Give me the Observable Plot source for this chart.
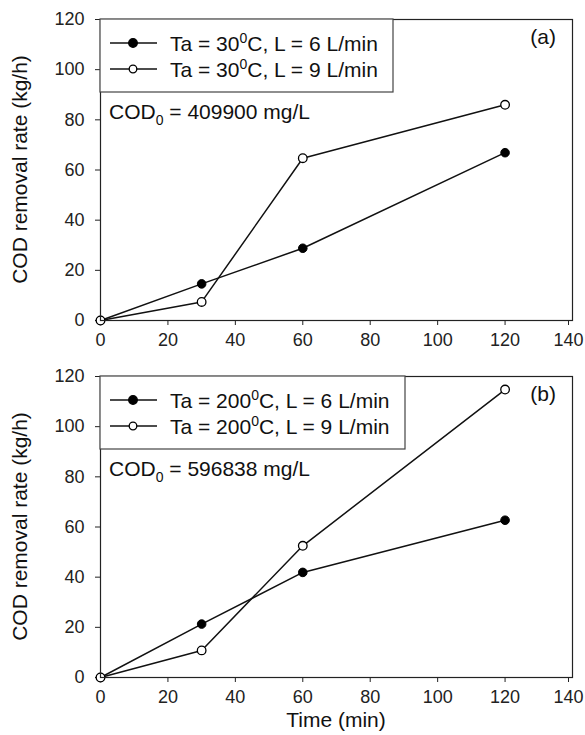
<!DOCTYPE html>
<html>
<head>
<meta charset="utf-8">
<script src="https://cdn.jsdelivr.net/npm/d3@7"></script>
<script src="https://cdn.jsdelivr.net/npm/@observablehq/plot@0.6"></script>
<style>
  html, body { margin: 0; padding: 0; background: #fff; }
  #chart svg { display: block; }
  #chart svg [aria-label$="tick label"] { font-size: 18px; }
</style>
</head>
<body>
<div id="chart"></div>
<script>
// ---- data ----
const times = [0, 30, 60, 120];
const xTicks = [0, 20, 40, 60, 80, 100, 120];
const xLastTick = [140];
const yTicks = [0, 20, 40, 60, 80, 100, 120];

const aL6 = [0, 14.6, 28.8, 66.9];
const aL9 = [0, 7.4, 64.7, 86.0];
const bL6 = [0, 21.3, 41.9, 62.7];
const bL9 = [0, 10.8, 52.5, 114.8];

const panels = [
  {tag: "(a)", temp: "30", cod: "409900", s6: aL6, s9: aL9},
  {tag: "(b)", temp: "200", cod: "596838", s6: bL6, s9: bL9}
];
const yLabel = "COD removal rate (kg/h)";
const xLabel = "Time (min)";

const FONT = "'Liberation Sans', Arial, Helvetica, sans-serif";
const container = document.getElementById("chart");

panels.forEach((p, i) => {
  const rows = [];
  times.forEach((t, k) => rows.push({t, v: p.s6[k], s: "L6"}));
  times.forEach((t, k) => rows.push({t, v: p.s9[k], s: "L9"}));
  const isLast = i === panels.length - 1;
  const mt = i === 0 ? 19 : 16;
  const mb = isLast ? 58 : 40;
  const plotH = 301;
  const chart = Plot.plot({
    width: 585,
    height: mt + plotH + mb,
    marginLeft: 100,
    marginRight: 13,
    marginTop: mt,
    marginBottom: mb,
    style: {fontFamily: FONT, fontSize: "18px", color: "#222", background: "#fff"},
    x: {domain: [0, 140], label: null},
    y: {domain: [0, 120], label: null},
    marks: [
      Plot.axisX({ticks: xTicks, tickSize: 5, tickPadding: 8, label: null, fontSize: 18, stroke: "#222"}),
      Plot.axisX({ticks: xLastTick, tickSize: 5, tickPadding: 8, label: null, fontSize: 18, stroke: "#222", dx: -4}),
      Plot.axisY({ticks: yTicks, tickSize: 5, tickPadding: 11, label: null, fontSize: 18, stroke: "#222"}),
      Plot.line(rows, {x: "t", y: "v", z: "s", stroke: "#111", strokeWidth: 1.5}),
      Plot.dot(rows.filter(d => d.s === "L6"), {x: "t", y: "v", r: 4.3, fill: "#000", stroke: "#000", strokeWidth: 1}),
      Plot.dot(rows.filter(d => d.s === "L9"), {x: "t", y: "v", r: 4.3, fill: "#fff", stroke: "#000", strokeWidth: 1.3}),
      Plot.frame({stroke: "#222", strokeWidth: 1.2})
    ]
  });
  container.appendChild(chart);

  const svg = d3.select(chart);
  const L = 100, T = mt;
  const g = svg.append("g").attr("font-family", FONT).attr("fill", "#111").attr("text-anchor", "start");

  // legend box
  const boxW = i === 0 ? 293 : 305;
  g.append("rect").attr("x", L).attr("y", T).attr("width", boxW).attr("height", 73)
    .attr("fill", "#fff").attr("stroke", "#444").attr("stroke-width", 1.2);
  const leg = [
    {lab: "6", fill: "#000", y: T + 24},
    {lab: "9", fill: "#fff", y: T + 50}
  ];
  leg.forEach(e => {
    g.append("line").attr("x1", L + 10).attr("x2", L + 57).attr("y1", e.y).attr("y2", e.y)
      .attr("stroke", "#111").attr("stroke-width", 1.5);
    g.append("circle").attr("cx", L + 33).attr("cy", e.y).attr("r", e.fill === "#000" ? 4.3 : 3.8)
      .attr("fill", e.fill).attr("stroke", "#000").attr("stroke-width", 1.3);
    const t = g.append("text").attr("x", L + 70).attr("y", e.y + 8).attr("font-size", 21)
      .attr("text-anchor", "start");
    t.append("tspan").text("Ta = " + p.temp);
    t.append("tspan").attr("font-size", 14).attr("dy", -8).text("0");
    t.append("tspan").attr("dy", 8).text("C, L = " + e.lab + " L/min");
  });

  // COD annotation
  const c = g.append("text").attr("x", L + 9).attr("y", T + 100).attr("font-size", 21)
    .attr("text-anchor", "start");
  c.append("tspan").text("COD");
  c.append("tspan").attr("font-size", 14).attr("dy", 6).text("0");
  c.append("tspan").attr("dy", -6).text(" = " + p.cod + " mg/L");

  // panel tag
  g.append("text").attr("x", 572 - 16).attr("y", T + 25).attr("text-anchor", "end")
    .attr("font-size", 21).text(p.tag);

  // y axis title
  g.append("text").attr("transform", `translate(27,${T + plotH / 2}) rotate(-90)`)
    .attr("text-anchor", "middle").attr("font-size", 21).text(yLabel);

  if (isLast) {
    g.append("text").attr("x", (100 + 572) / 2).attr("y", T + plotH + 50)
      .attr("text-anchor", "middle").attr("font-size", 21).text(xLabel);
  }
});
</script>
</body>
</html>
